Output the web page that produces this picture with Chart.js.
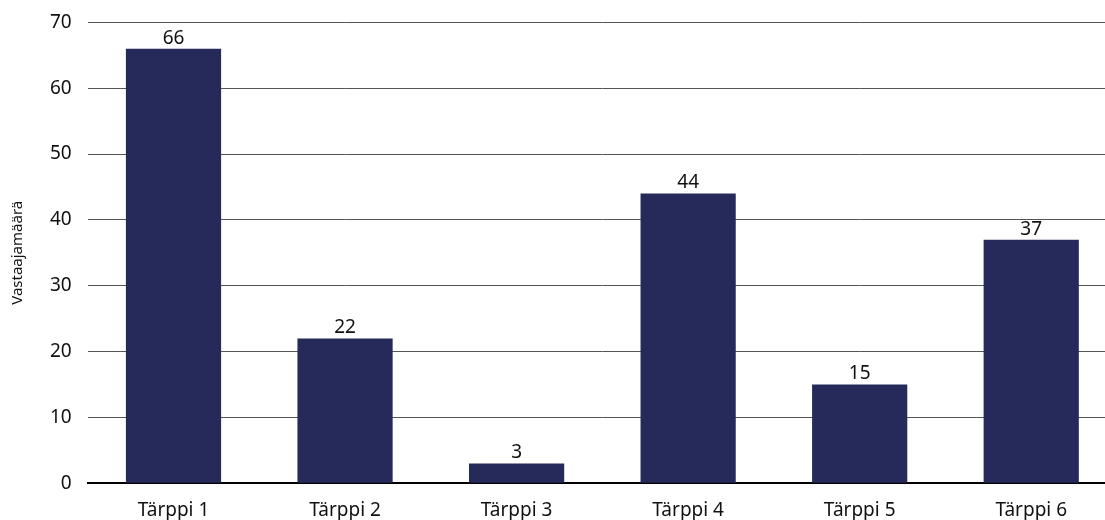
<!DOCTYPE html>
<html>
<head>
<meta charset="utf-8">
<script src="https://cdn.jsdelivr.net/npm/chart.js@4"></script>
<style>
  html, body { margin: 0; padding: 0; background: #fff; overflow: hidden; }
  #wrap { width: 1125px; height: 525px; margin-top: -5px; }
</style>
</head>
<body>
<div id="wrap"><canvas id="myChart"></canvas></div>
<script>
const labels = ['Tärppi 1', 'Tärppi 2', 'Tärppi 3', 'Tärppi 4', 'Tärppi 5', 'Tärppi 6'];
const values = [66, 22, 3, 44, 15, 37];
const yTitle = 'Vastaajamäärä';

Chart.defaults.font.family = '"Noto Sans", sans-serif';
Chart.defaults.font.size = 19;
Chart.defaults.color = '#111';

// numbers above the bars
const valueLabels = {
    id: 'valueLabels',
    afterDatasetsDraw(chart) {
        const c = chart.ctx;
        const meta = chart.getDatasetMeta(0);
        c.save();
        c.font = '19px "Noto Sans", sans-serif';
        c.fillStyle = '#111';
        c.textAlign = 'center';
        c.textBaseline = 'bottom';
        meta.data.forEach((bar, i) => {
            c.fillText(values[i], bar.x, bar.y - 1);
        });
        c.restore();
    }
};

const ctx = document.getElementById('myChart');
const myChart = new Chart(ctx, {
    type: 'bar',
    data: {
        labels: labels,
        datasets: [{
            data: values,
            backgroundColor: '#262a5a',
            categoryPercentage: 1,
            barPercentage: 0.555
        }]
    },
    options: {
        responsive: true,
        maintainAspectRatio: false,
        animation: false,
        layout: { padding: { top: 5, right: 8, left: 9, bottom: -18 } },
        plugins: {
            legend: { display: false },
            tooltip: { enabled: false }
        },
        scales: {
            x: {
                grid: { display: false, drawTicks: false },
                border: { display: true, color: '#000', width: 2 },
                ticks: { padding: 16 }
            },
            y: {
                min: 0,
                max: 70,
                ticks: { stepSize: 10, padding: 16 },
                border: { display: false },
                grid: {
                    color: (c) => c.tick.value === 0 ? '#000' : '#555',
                    lineWidth: 1,
                    drawTicks: false
                },
                title: { display: true, text: yTitle, font: { size: 15 }, padding: { top: 0, bottom: 7 } }
            }
        }
    },
    plugins: [valueLabels]
});
</script>
</body>
</html>
